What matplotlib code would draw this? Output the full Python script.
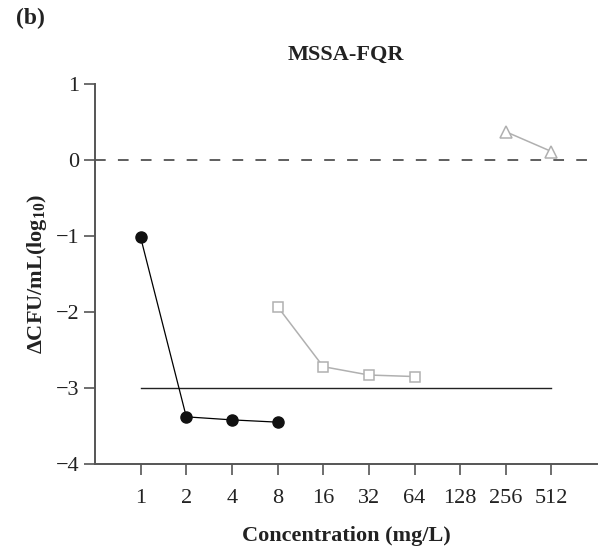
import numpy as np
import matplotlib
matplotlib.use('Agg')
import matplotlib.pyplot as plt

plt.rcParams['font.family'] = ['Liberation Serif', 'DejaVu Serif']
plt.rcParams['mathtext.fontset'] = 'custom'
plt.rcParams['mathtext.rm'] = 'Liberation Serif'
plt.rcParams['mathtext.bf'] = 'Liberation Serif:bold'

# Data
conc_ticks = [1, 2, 4, 8, 16, 32, 64, 128, 256, 512]
conc_labels = ['1', '2', '4', '8', '16', '32', '64', '128', '256', '512']

circle_x = [1, 2, 4, 8]
circle_y = [-1.02, -3.38, -3.42, -3.45]

square_x = [8, 16, 32, 64]
square_y = [-1.93, -2.72, -2.83, -2.85]

triangle_x = [256, 512]
triangle_y = [0.37, 0.11]

ref_zero = 0
ref_kill = -3

fig = plt.figure(figsize=(6.05, 5.59), dpi=100)
ax = fig.add_axes([0.157, 0.170, 0.830, 0.680])

ax.set_xscale('log', base=2)
ax.set_xlim(0.5, 1024)
ax.set_ylim(-4, 1)

ax.axhline(ref_zero, color='#333333', lw=1.1, ls=(0, (7, 8)))
ax.plot([conc_ticks[0], conc_ticks[-1]], [ref_kill, ref_kill], color='#222222', lw=1.0)

ax.plot(circle_x, circle_y, color='black', lw=0.9, marker='o', ms=8,
        mfc='#111111', mec='#111111', zorder=3)
ax.plot(square_x, square_y, color='#b0b0b0', lw=1.1, marker='s', ms=7.5,
        mfc='white', mec='#b0b0b0', mew=1.1, zorder=3)
ax.plot(triangle_x, triangle_y, color='#b0b0b0', lw=1.1, marker='^', ms=8.5,
        mfc='white', mec='#b0b0b0', mew=1.1, zorder=3)

ax.set_xticks(conc_ticks)
ax.set_xticklabels(conc_labels)
ax.xaxis.set_minor_locator(matplotlib.ticker.NullLocator())
ax.set_yticks([-4, -3, -2, -1, 0, 1])
ax.set_yticklabels(['\u22124', '\u22123', '\u22122', '\u22121', '0', '1'])

for s in ['top', 'right']:
  ax.spines[s].set_visible(False)
for s in ['left', 'bottom']:
  ax.spines[s].set_color('#555555')
  ax.spines[s].set_linewidth(1.4)

ax.tick_params(axis='both', direction='out', length=8, width=1.2,
               color='#555555', labelsize=16, labelcolor='#222222')
ax.tick_params(axis='x', pad=10)
ax.tick_params(axis='y', pad=3)

ax.set_title('MSSA-FQR', fontsize=16, fontweight='bold', pad=17, color='#222222')
ax.set_xlabel('Concentration (mg/L)', fontsize=16, fontweight='bold',
              labelpad=13, color='#222222')
ax.set_ylabel(r'ΔCFU/mL(log$_{\mathbf{10}}$)', fontsize=16, fontweight='bold',
              labelpad=5, color='#222222')

fig.text(0.026, 0.967, '(b)', fontsize=17, fontweight='bold', color='#222222',
         va='center', ha='left')

fig.savefig('out.png', dpi=100)
